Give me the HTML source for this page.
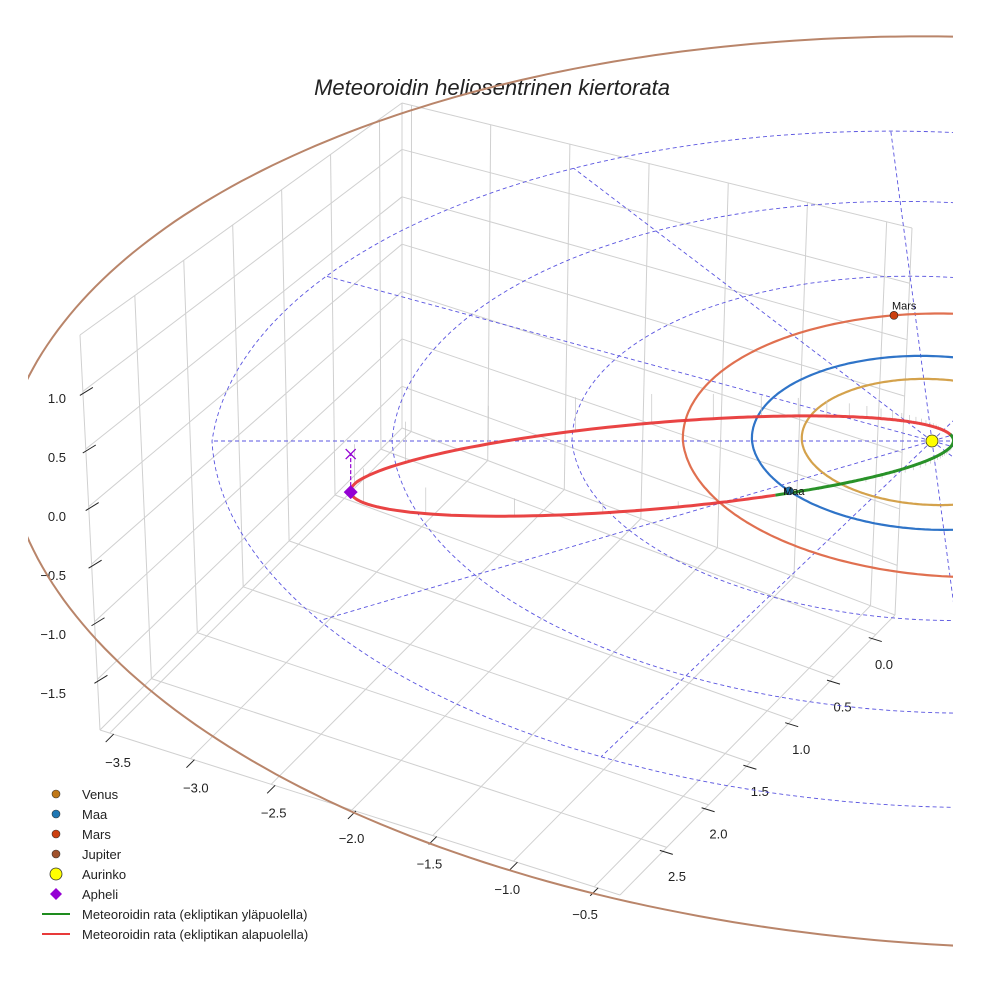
<!DOCTYPE html>
<html><head><meta charset="utf-8"><style>
html,body{margin:0;padding:0;background:#fff}
svg{display:block;font-family:"Liberation Sans",sans-serif}
</style></head><body>
<svg id="chart" width="984" height="984" viewBox="0 0 984 984" xmlns="http://www.w3.org/2000/svg">
<defs><clipPath id="clip"><rect x="28" y="28" width="925" height="930"/></clipPath></defs>
<rect width="984" height="984" fill="#fff"/>
<text x="492" y="95" text-anchor="middle" font-size="22" font-style="italic" fill="#222">Meteoroidin heliosentrinen kiertorata</text>
<g id="box"></g>
<g id="ticks"></g>
<g id="plot" clip-path="url(#clip)"></g>
<g id="legend"></g>
</svg>
<script>
// ---- data ----
const xTicks = [-3.5, -3.0, -2.5, -2.0, -1.5, -1.0, -0.5];
const yTicks = [0.0, 0.5, 1.0, 1.5, 2.0, 2.5];
const zTicks = [-1.5, -1.0, -0.5, 0.0, 0.5, 1.0];
const xLim = [-3.56, -0.34], yLim = [-0.23, 3.06], zLim = [-1.94, 1.49];
const planetNames = ["Venus", "Maa", "Mars", "Jupiter"];
const planetA = [0.723, 1.0, 1.524, 5.45];
const planetCenterU = [0.0, 0.0, 0.14, 0.3];
const planetAngleDeg = [null, 145.7, 260, null];
const planetColors = ["#d4a24c", "#2f74c8", "#e07050", "#b9856a"];
const markerColors = ["#c07818", "#1f77b4", "#cc4010", "#a0522d"];
const ringRadii = [1, 2, 3, 4];
const radialAnglesDeg = [0, 30, 60, 90, 120, 150, 180, 210, 240, 270, 300, 330];
const meteorPerihelion = [0.12];
const meteorAphelion = [3.26];
const meteorPeriDirDeg = [358];
const meteorInclDeg = [12.6];
const meteorNodeNuDeg = [147.7];

// ---- projection ----
const NS = "http://www.w3.org/2000/svg";
function proj(u, v, z) {
  const k = v < 0 ? 1 / (1 - 0.034 * v) : 1 / (1 - 0.01 * v);
  return [932 + 180 * (u + 0.065 * v) * k, 441 + 88 * v * k - 100 * z * k];
}
function mk(tag, attrs, parent) {
  const e = document.createElementNS(NS, tag);
  for (const k in attrs) e.setAttribute(k, attrs[k]);
  parent.appendChild(e);
  return e;
}
function pts(arr) { return arr.map(p => p[0].toFixed(1) + "," + p[1].toFixed(1)).join(" "); }

// ---- box (bilinear faces) ----
const B0 = [402, 428], L0 = [100, 730], F0 = [620, 895], R0 = [895, 615];
const B1 = [402, 103], L1 = [80, 335], R1 = [912, 228];
function bil(P00, P10, P01, P11, s, t) {
  return [
    P00[0] * (1 - s) * (1 - t) + P10[0] * s * (1 - t) + P01[0] * (1 - s) * t + P11[0] * s * t,
    P00[1] * (1 - s) * (1 - t) + P10[1] * s * (1 - t) + P01[1] * (1 - s) * t + P11[1] * s * t];
}
const fx = v => (v - xLim[0]) / (xLim[1] - xLim[0]);
const fy = v => (v - yLim[0]) / (yLim[1] - yLim[0]);
const fz = v => (v - zLim[0]) / (zLim[1] - zLim[0]);
const box = document.getElementById("box");
function gl(a, b, name) {
  const l = mk("line", {x1: a[0], y1: a[1], x2: b[0], y2: b[1], stroke: "#d0d0d0", "stroke-width": 1}, box);
  
  
}
xTicks.forEach(v => gl(bil(B0, R0, L0, F0, fx(v), 0), bil(B0, R0, L0, F0, fx(v), 1), "floor-grid-x"));
yTicks.forEach(v => gl(bil(B0, R0, L0, F0, 0, fy(v)), bil(B0, R0, L0, F0, 1, fy(v)), "floor-grid-y"));
const LW = (s, t) => bil(B0, L0, B1, L1, s, t);
yTicks.forEach(v => gl(LW(fy(v), 0), LW(fy(v), 1), "left-wall-grid-y"));
zTicks.forEach(v => gl(LW(0, fz(v)), LW(1, fz(v)), "left-wall-grid-z"));
const RW = (s, t) => bil(B0, R0, B1, R1, s, t);
xTicks.forEach(v => gl(RW(fx(v), 0), RW(fx(v), 1), "right-wall-grid-x"));
zTicks.forEach(v => gl(RW(0, fz(v)), RW(1, fz(v)), "right-wall-grid-z"));
[[B0, B1], [L0, L1], [R0, R1], [B1, L1], [B1, R1], [L0, F0], [R0, F0], [B0, L0], [B0, R0]].forEach(e => gl(e[0], e[1], "box-edge"));

// ---- ticks & labels ----
const tk = document.getElementById("ticks");
function tickLine(a, b) {
  const l = mk("line", {x1: a[0], y1: a[1], x2: b[0], y2: b[1], stroke: "#222", "stroke-width": 1}, tk);
  
  
}
function lbl(x, y, s, anchor, name) {
  const t = mk("text", {x: x, y: y, "font-size": 13, fill: "#222", "text-anchor": anchor}, tk);
  t.textContent = s;
  
  
}
const fmt = v => (v < 0 ? "\u2212" : "") + Math.abs(v).toFixed(1);
xTicks.forEach(v => {
  const p = bil(B0, R0, L0, F0, fx(v), 1);
  tickLine([p[0] - 4, p[1] + 9], [p[0] + 4, p[1] + 1]);
  lbl(118 + (v + 3.5) * 155.7, 767 + (v + 3.5) * 50.7, fmt(v), "middle", "x-tick-label");
});
yTicks.forEach(v => {
  const p = bil(B0, R0, L0, F0, 1, fy(v));
  tickLine([p[0] - 7, p[1] + 3], [p[0] + 6, p[1] + 7]);
  lbl(884 - v * 82.8, 669 + v * 84.8, fmt(v), "middle", "y-tick-label");
});
zTicks.forEach(v => {
  const p = LW(1, fz(v));
  tickLine([p[0] - 3, p[1] + 4], [p[0] + 10, p[1] - 4]);
  lbl(66, 521 - v * 118, fmt(v), "end", "z-tick-label");
});

// ---- plot ----
const plot = document.getElementById("plot");
function ellipsePts(a, cu, nptsN) {
  const out = [];
  for (let i = 0; i <= nptsN; i++) {
    const th = 2 * Math.PI * i / nptsN;
    out.push(proj(cu + a * Math.cos(th), a * Math.sin(th), 0));
  }
  return out;
}
ringRadii.forEach(r => {
  const p = mk("polyline", {points: pts(ellipsePts(r, 0, 240)), fill: "none", stroke: "#5a55e0", "stroke-width": 0.9, "stroke-dasharray": "4,3"}, plot);
  
  
});
radialAnglesDeg.forEach(d => {
  const th = d * Math.PI / 180, R = ringRadii[ringRadii.length - 1];
  const a = proj(0, 0, 0), b = proj(R * Math.cos(th), R * Math.sin(th), 0);
  const l = mk("line", {x1: a[0], y1: a[1], x2: b[0], y2: b[1], stroke: "#5a55e0", "stroke-width": 0.9, "stroke-dasharray": "4,3"}, plot);
  
  
});
planetNames.forEach((n, i) => {
  const p = mk("polyline", {points: pts(ellipsePts(planetA[i], planetCenterU[i], 360)), fill: "none", stroke: planetColors[i], "stroke-width": i === 3 ? 2 : 2.2}, plot);
  
  
});
const q = meteorPerihelion[0], Qa = meteorAphelion[0];
const aM = (q + Qa) / 2, eM = (Qa - q) / (Qa + q), pM = aM * (1 - eM * eM);
const inc = meteorInclDeg[0] * Math.PI / 180, nuN = meteorNodeNuDeg[0] * Math.PI / 180;
const nodeAng = (meteorPeriDirDeg[0] * Math.PI / 180) + nuN;
function meteorPos(nu) {
  const r = pM / (1 + eM * Math.cos(nu)), phi = nu - nuN;
  const c = r * Math.cos(phi), s = r * Math.sin(phi);
  const nU = Math.cos(nodeAng), nV = Math.sin(nodeAng);
  const pU = Math.cos(nodeAng + Math.PI / 2), pV = Math.sin(nodeAng + Math.PI / 2);
  return [c * nU + s * Math.cos(inc) * pU, c * nV + s * Math.cos(inc) * pV, -s * Math.sin(inc)];
}
for (let d = -178; d < 180; d += 5) {
  const m = meteorPos(d * Math.PI / 180);
  const a = proj(m[0], m[1], m[2]), b = proj(m[0], m[1], 0);
  const l = mk("line", {x1: a[0], y1: a[1], x2: b[0], y2: b[1], stroke: "#c4c4c4", "stroke-width": 0.7}, plot);
  
  
}
let seg = [], segSign = null;
function flush() {
  if (seg.length > 1) {
    const p = mk("polyline", {points: pts(seg), fill: "none", stroke: segSign ? "#1e8c1e" : "#e83a3a", "stroke-width": 3, "stroke-opacity": 0.95, "stroke-linejoin": "round"}, plot);
    
    
  }
}
for (let i = 0; i <= 720; i++) {
  const nu = -Math.PI + 2 * Math.PI * i / 720;
  const m = meteorPos(nu), sc = proj(m[0], m[1], m[2]);
  const sign = m[2] >= 0;
  if (segSign === null) segSign = sign;
  if (sign !== segSign) { seg.push(sc); flush(); seg = [seg[seg.length - 1]]; segSign = sign; }
  seg.push(sc);
}
flush();
const ap = meteorPos(Math.PI), apS = proj(ap[0], ap[1], ap[2]), apE = proj(ap[0], ap[1], 0);
let e1 = mk("line", {x1: apS[0], y1: apS[1], x2: apE[0], y2: apE[1], stroke: "#9400d3", "stroke-width": 1.2, "stroke-dasharray": "4,2"}, plot);


let e2 = mk("path", {d: `M${apE[0]-5},${apE[1]-5}L${apE[0]+5},${apE[1]+5}M${apE[0]-5},${apE[1]+5}L${apE[0]+5},${apE[1]-5}`, stroke: "#9400d3", "stroke-width": 1.3}, plot);


let e3 = mk("path", {d: `M${apS[0]},${apS[1]-7}L${apS[0]+7},${apS[1]}L${apS[0]},${apS[1]+7}L${apS[0]-7},${apS[1]}Z`, fill: "#9400d3"}, plot);


planetNames.forEach((n, i) => {
  if (planetAngleDeg[i] === null) return;
  const th = planetAngleDeg[i] * Math.PI / 180;
  const s = proj(planetCenterU[i] + planetA[i] * Math.cos(th), planetA[i] * Math.sin(th), 0);
  const c = mk("circle", {cx: s[0], cy: s[1], r: 4, fill: markerColors[i], stroke: "#222", "stroke-width": 0.6}, plot);
  
  
  const t = mk("text", {x: s[0] - 2, y: s[1] - 6, "font-size": 11, fill: "#111"}, plot);
  if (i === 1) { t.setAttribute("y", s[1] + 4); t.setAttribute("x", s[0] - 6); }
  t.textContent = n;
  
  
});
const sun = proj(0, 0, 0);
let sc1 = mk("circle", {cx: sun[0], cy: sun[1], r: 6, fill: "#ffff00", stroke: "#333", "stroke-width": 0.8}, plot);



// ---- legend ----
const lg = document.getElementById("legend");
const legendLabels = ["Venus", "Maa", "Mars", "Jupiter", "Aurinko", "Apheli", "Meteoroidin rata (ekliptikan yläpuolella)", "Meteoroidin rata (ekliptikan alapuolella)"];
legendLabels.forEach((s, i) => {
  const y = 794 + i * 20;
  const g = mk("g", {}, lg);
  
  
  if (i < 4) mk("circle", {cx: 56, cy: y, r: 4, fill: markerColors[i], stroke: "#333", "stroke-width": 0.6}, g);
  else if (i === 4) mk("circle", {cx: 56, cy: y, r: 6, fill: "#ffff00", stroke: "#333", "stroke-width": 0.8}, g);
  else if (i === 5) mk("path", {d: `M56,${y-6}L62,${y}L56,${y+6}L50,${y}Z`, fill: "#9400d3"}, g);
  else mk("line", {x1: 42, y1: y, x2: 70, y2: y, stroke: i === 6 ? "#1e8c1e" : "#e83a3a", "stroke-width": 2}, g);
  const t = mk("text", {x: 82, y: y + 5, "font-size": 13, fill: "#222"}, g);
  t.textContent = s;
});
</script>
</body></html>
